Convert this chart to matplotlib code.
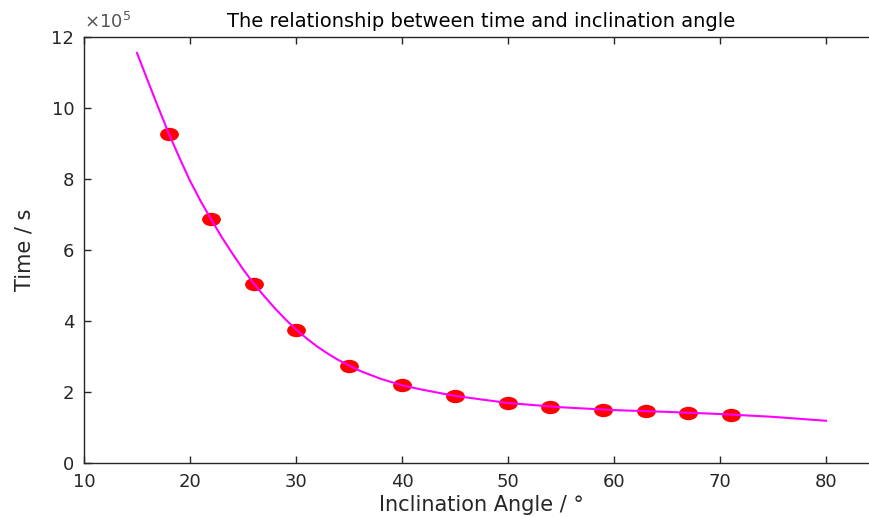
import numpy as np
import matplotlib.pyplot as plt
from matplotlib.path import Path
from matplotlib.ticker import FuncFormatter

# measured points
angle = [18, 22, 26, 30, 35, 40, 45, 50, 54, 59, 63, 67, 71]
time_s = [9.28e5, 6.86e5, 5.05e5, 3.76e5, 2.73e5, 2.19e5, 1.89e5, 1.69e5,
          1.58e5, 1.50e5, 1.46e5, 1.41e5, 1.36e5]

# fitted curve
fit_angle = [15, 16, 17, 18, 19, 20, 21, 22, 23, 24, 25, 26, 27, 28, 29, 30,
             31, 32, 33, 34, 36, 38, 40, 42, 45, 50, 55, 60, 65, 70, 75, 80]
fit_time = [11.55e5, 10.78e5, 10.02e5, 9.28e5, 8.60e5, 7.95e5, 7.38e5, 6.86e5,
            6.36e5, 5.90e5, 5.46e5, 5.06e5, 4.70e5, 4.36e5, 4.05e5, 3.76e5,
            3.51e5, 3.28e5, 3.08e5, 2.90e5, 2.60e5, 2.37e5, 2.19e5, 2.06e5,
            1.89e5, 1.69e5, 1.57e5, 1.49e5, 1.44e5, 1.38e5, 1.30e5, 1.19e5]

plt.rcParams['font.family'] = ['DejaVu Sans']
grey = '#262626'

fig = plt.figure(figsize=(8.7, 5.17), dpi=100)
ax = fig.add_axes([84 / 870, (517 - 463) / 517, 795 / 870, 426 / 517])

# slightly wide dot like the original
circ = Path.unit_circle()
dot = Path(circ.vertices * [1.45, 1.0], circ.codes)
ax.plot(angle, time_s, linestyle='none', marker=dot, ms=12.5, color='red', zorder=2)
ax.plot(fit_angle, fit_time, color='#ff00ff', lw=1.5, zorder=3)

ax.set_xlim(10, 85)
ax.set_ylim(0, 12e5)
ax.set_xticks([10, 20, 30, 40, 50, 60, 70, 80])
ax.set_yticks(np.arange(0, 12.1e5, 2e5))
ax.yaxis.set_major_formatter(FuncFormatter(lambda v, p: f'{v / 1e5:g}'))
ax.text(0, 1.012, r'$\times 10^{\mathregular{5}}$', transform=ax.transAxes,
        fontsize=13, color='#555555', ha='left', va='bottom')

ax.tick_params(direction='in', length=5, width=1, colors=grey, labelsize=13,
               top=True, right=True, pad=7)
for s in ax.spines.values():
    s.set_color(grey)
    s.set_linewidth(1)

ax.set_title('The relationship between time and inclination angle', fontsize=14,
             color='black', pad=7)
ax.set_xlabel('Inclination Angle / °', fontsize=15, color=grey, labelpad=3)
ax.set_ylabel('Time / s', fontsize=15, color=grey, labelpad=12)

fig.savefig('out.png', dpi=100)
